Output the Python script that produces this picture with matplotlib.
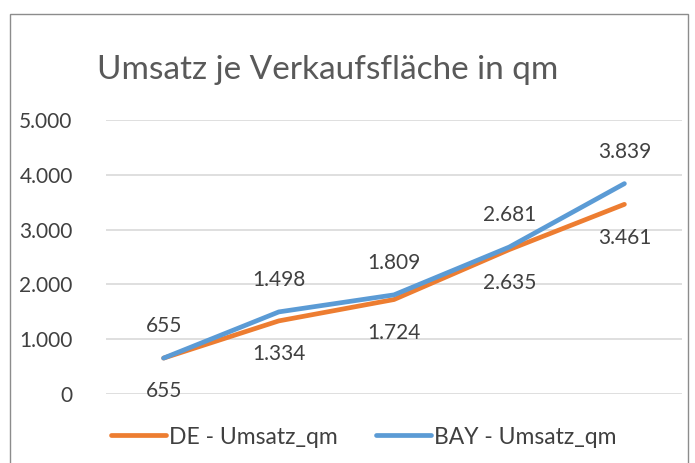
import matplotlib
matplotlib.use("Agg")
import matplotlib.pyplot as plt
from matplotlib.lines import Line2D
from matplotlib.patches import Rectangle

categories = ["1", "2", "3", "4", "5"]
de_values = [655, 1334, 1724, 2635, 3461]
bay_values = [655, 1498, 1809, 2681, 3839]
y_ticks = [0, 1000, 2000, 3000, 4000, 5000]

DE_COLOR = "#ED7D31"
BAY_COLOR = "#5B9BD5"
TEXT = "#404040"

plt.rcParams["font.family"] = ["Lato", "DejaVu Sans"]


def de_fmt(v):
    return f"{v:,}".replace(",", ".")


fig = plt.figure(figsize=(6.95, 4.63), dpi=100)
# chart frame (Excel-style border)
fig.patches.append(Rectangle((10 / 695, -0.05), 678 / 695, 1 - 14 / 463 + 0.05,
                             transform=fig.transFigure, fill=False,
                             edgecolor="#8c8c8c", lw=1.0))

ax = fig.add_axes([106 / 695, 1 - 394 / 463, 576 / 695, (394 - 120) / 463])
x = list(range(len(categories)))
ax.plot(x, de_values, color=DE_COLOR, lw=3.4, solid_capstyle="round")
ax.plot(x, bay_values, color=BAY_COLOR, lw=3.4, solid_capstyle="round")

for xi, v in zip(x, de_values):
    ax.annotate(de_fmt(v), (xi, v), xytext=(0, -24), textcoords="offset points",
                ha="center", va="center", fontsize=15, color=TEXT)
for xi, v in zip(x, bay_values):
    ax.annotate(de_fmt(v), (xi, v), xytext=(0, 23), textcoords="offset points",
                ha="center", va="center", fontsize=15, color=TEXT)

ax.set_xlim(-0.5, 4.5)
ax.set_ylim(0, 5000)
ax.set_yticks(y_ticks)
ax.set_yticklabels([de_fmt(v) for v in y_ticks], fontsize=15, color=TEXT)
ax.set_xticks([])
ax.grid(axis="y", color="#d9d9d9", lw=1.2)
ax.set_axisbelow(True)
ax.tick_params(axis="y", length=0, pad=24)
for s in ax.spines.values():
    s.set_visible(False)

fig.text(97 / 695, 1 - 70 / 463, "Umsatz je Verkaufsfläche in qm", fontsize=24,
         color="#595959", ha="left", va="center")

handles = [Line2D([], [], color=DE_COLOR, lw=3.4, solid_capstyle="round"),
           Line2D([], [], color=BAY_COLOR, lw=3.4, solid_capstyle="round")]
fig.legend(handles, ["DE - Umsatz_qm", "BAY - Umsatz_qm"], loc="center",
           bbox_to_anchor=(364 / 695, 1 - 437 / 463), ncol=2, frameon=False,
           fontsize=16.5, labelcolor=TEXT, handlelength=2.4, handletextpad=0.15,
           columnspacing=1.65)

fig.savefig("out.png", dpi=100)
